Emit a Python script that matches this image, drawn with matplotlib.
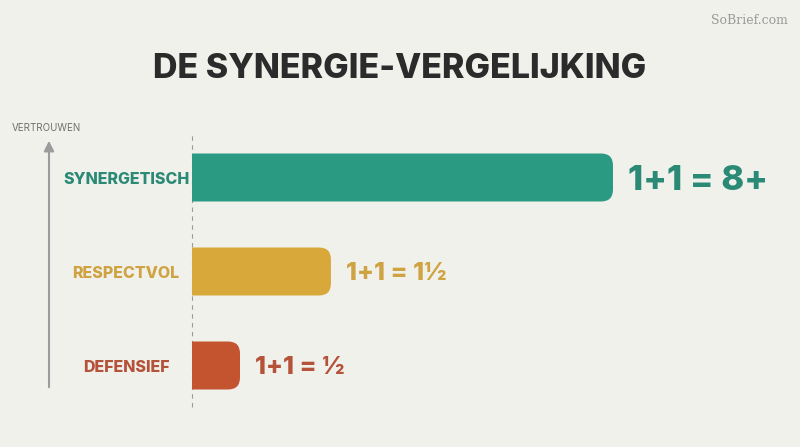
import matplotlib
matplotlib.use("Agg")
import matplotlib.pyplot as plt
from matplotlib.patches import FancyBboxPatch, Rectangle

categories = ["DEFENSIEF", "RESPECTVOL", "SYNERGETISCH"]
values = [11.4, 33.0, 100.0]          # relative bar length
equations = ["1+1 = ½", "1+1 = 1½", "1+1 = 8+"]
bar_colors = ["#c4532f", "#d9a83a", "#2a9a83"]
text_colors = ["#b4523a", "#cfa342", "#2b8a76"]
eq_sizes = [18, 18, 25]
title = "DE SYNERGIE-VERGELIJKING"
axis_label = "VERTROUWEN"
watermark = "SoBrief.com"

FONT = ["Inter", "DejaVu Sans"]
BG = "#f1f1ec"
W, H = 800, 447
fig = plt.figure(figsize=(W / 100, H / 100), dpi=100, facecolor=BG)
ax = fig.add_axes([0, 0, 1, 1])
ax.set_facecolor(BG)

pxu_x = 421 / 100.0
pxu_y = 94.0
x0 = 192
ax.set_xlim(-x0 / pxu_x, (W - x0) / pxu_x)
y0px = 365.5
ax.set_ylim(-(H - y0px) / pxu_y, y0px / pxu_y)
ax.axis("off")

ypos = list(range(len(categories)))
bar_h = 48 / pxu_y
r = 12 / pxu_x
aspect = (1 / pxu_y) / (1 / pxu_x)

clip = Rectangle((0, -10), 1000, 20, transform=ax.transData)
for y, v, c, tc, eq, es, cat in zip(ypos, values, bar_colors, text_colors, equations, eq_sizes, categories):
    p = FancyBboxPatch((-3 * r, y - bar_h / 2), v + 3 * r, bar_h,
                       boxstyle=f"round,pad=0,rounding_size={r}",
                       mutation_aspect=aspect, fc=c, ec="none", zorder=3)
    ax.add_patch(p)
    p.set_clip_path(clip)
    ax.text(v + 15 / pxu_x, y, eq, ha="left", va="center_baseline",
            fontsize=es, fontweight="heavy", color=tc, family=FONT)
    ax.text(-(192 - 126) / pxu_x, y, cat, ha="center", va="center_baseline",
            fontsize=11.5, fontweight="heavy", color=tc, family=FONT)

ax.plot([0, 0], [(y0px - 407) / pxu_y, (y0px - 133) / pxu_y], ls=(0, (4, 4)),
        color="#9a9a9a", lw=0.8, zorder=1)

ax.annotate("", xy=(-(192 - 49) / pxu_x, (y0px - 138) / pxu_y),
            xytext=(-(192 - 49) / pxu_x, (y0px - 390) / pxu_y),
            arrowprops=dict(arrowstyle="-|>,head_length=0.6,head_width=0.3",
                            color="#9c9c9c", lw=1.5))

fig.text(12 / W, 1 - 128 / H, axis_label, ha="left", va="center",
         fontsize=7, color="#6f6f6f", family=FONT)
fig.text(400 / W, 1 - 69 / H, title, ha="center", va="center",
         fontsize=24.5, fontweight="heavy", color="#2b2b2b", family=FONT)
fig.text(788 / W, 1 - 20 / H, watermark, ha="right", va="center",
         fontsize=9, color="#9a9a9a", family=["DejaVu Serif"])

fig.savefig("out.png", dpi=100, facecolor=BG)
